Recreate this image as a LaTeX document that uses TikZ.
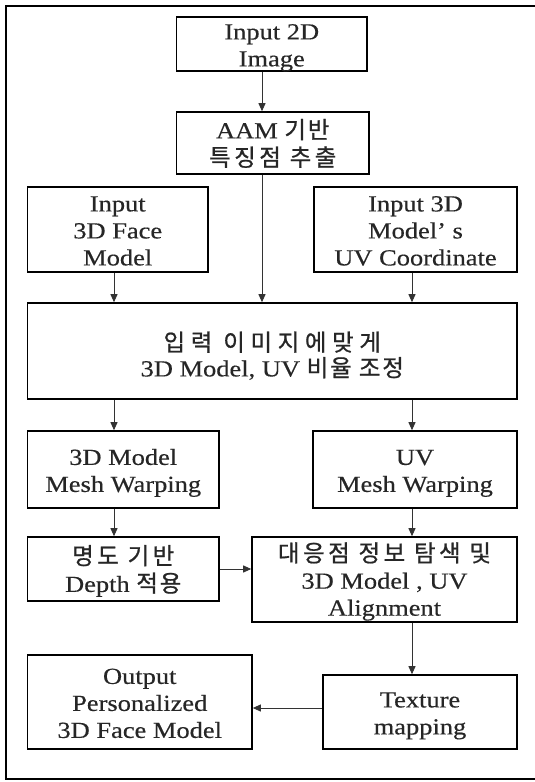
\documentclass[tikz,border=0pt]{standalone}
\usepackage{fontspec}
\setmainfont{Liberation Serif}[FakeStretch=1.15,FakeBold=0.4]
\newfontfamily\kr{Noto Sans CJK KR}[Scale=1.02,LetterSpace=8,FakeBold=0.8]
\newfontfamily\krb{Noto Sans CJK KR}[Scale=1.02,LetterSpace=15,FakeBold=0.8]
\newfontfamily\krc{Noto Sans CJK KR}[Scale=1.02,LetterSpace=24,FakeBold=0.8]
\usetikzlibrary{arrows.meta}
\newcommand\bxtext[2][-3.5pt]{\raisebox{#1}[\height][\depth]{\begin{tabular}{@{}c@{}}#2\end{tabular}}}
\tikzset{
  box/.style={draw=black, line width=1.6pt, inner sep=0pt,
    font=\fontsize{23}{27}\selectfont, text=black!85},
  arr/.style={draw=black!80, line width=0.9pt, -{Triangle[length=8pt,width=7pt]}},
  frame/.style={draw=black, line width=1.8pt}
}
\begin{document}
\begin{tikzpicture}[x=1pt,y=-1pt]
\useasboundingbox (0,0) rectangle (535,782);
\draw[frame] (535,6) -- (6,6) -- (6,779) -- (535,779);
\coordinate (cL) at (114,0);
\coordinate (cM) at (262,0);
\coordinate (cR) at (412,0);
\node[box, minimum width=190.5pt, minimum height=54pt] (in2d) at (271.75,44) {\bxtext{Input 2D\\Image}};
\node[box, minimum width=192.5pt, minimum height=62pt] (aam) at (272.75,143) {\bxtext{AAM {\kr 기반}\\{\krb 특징점 추출}}};
\node[box, minimum width=180.5pt, minimum height=85pt] (face) at (117.75,229.5) {\bxtext{Input\\3D Face\\Model}};
\node[box, minimum width=203pt, minimum height=85pt] (uvc) at (415.5,229.5) {\bxtext{Input 3D\\Model’ s\\UV Coordinate}};
\node[box, minimum width=489.5pt, minimum height=96pt] (adj) at (272.25,351) {\bxtext[-7pt]{{\krc 입력 이미지에맞게}\\[-2pt]3D Model, UV {\kr 비율 조정}}};
\node[box, minimum width=191.5pt, minimum height=77pt] (mwarp) at (123.25,469.5) {\bxtext{3D Model\\Mesh Warping}};
\node[box, minimum width=204pt, minimum height=77pt] (uvwarp) at (415,469.5) {\bxtext{UV\\Mesh Warping}};
\node[box, minimum width=191.5pt, minimum height=64pt] (depth) at (123.25,569) {\bxtext{{\krb 명도 기반}\\Depth {\kr 적용}}};
\node[box, minimum width=265pt, minimum height=85pt] (align) at (384.5,579.5) {\bxtext{{\krb 대응점 정보 탐색 및}\\3D Model , UV\\Alignment}};
\node[box, minimum width=224.5pt, minimum height=94pt] (out) at (139.75,702) {\bxtext{Output\\Personalized\\3D Face Model}};
\node[box, minimum width=194pt, minimum height=74pt] (tex) at (420,712) {\bxtext{Texture\\mapping}};
\coordinate (tw) at ([yshift=4pt]tex.west);
\draw[arr] (in2d.south -| cM) -- (aam.north -| cM);
\draw[arr] (aam.south -| cM) -- (adj.north -| cM);
\draw[arr] (face.south -| cL) -- (adj.north -| cL);
\draw[arr] (uvc.south -| cR) -- (adj.north -| cR);
\draw[arr] (adj.south -| cL) -- (mwarp.north -| cL);
\draw[arr] (adj.south -| cR) -- (uvwarp.north -| cR);
\draw[arr] (mwarp.south -| cL) -- (depth.north -| cL);
\draw[arr] (uvwarp.south -| cR) -- (align.north -| cR);
\draw[arr] (depth.east) -- (align.west |- depth.east);
\draw[arr] (align.south -| cR) -- (tex.north -| cR);
\draw[arr] (tw) -- (out.east |- tw);
\end{tikzpicture}
\end{document}
